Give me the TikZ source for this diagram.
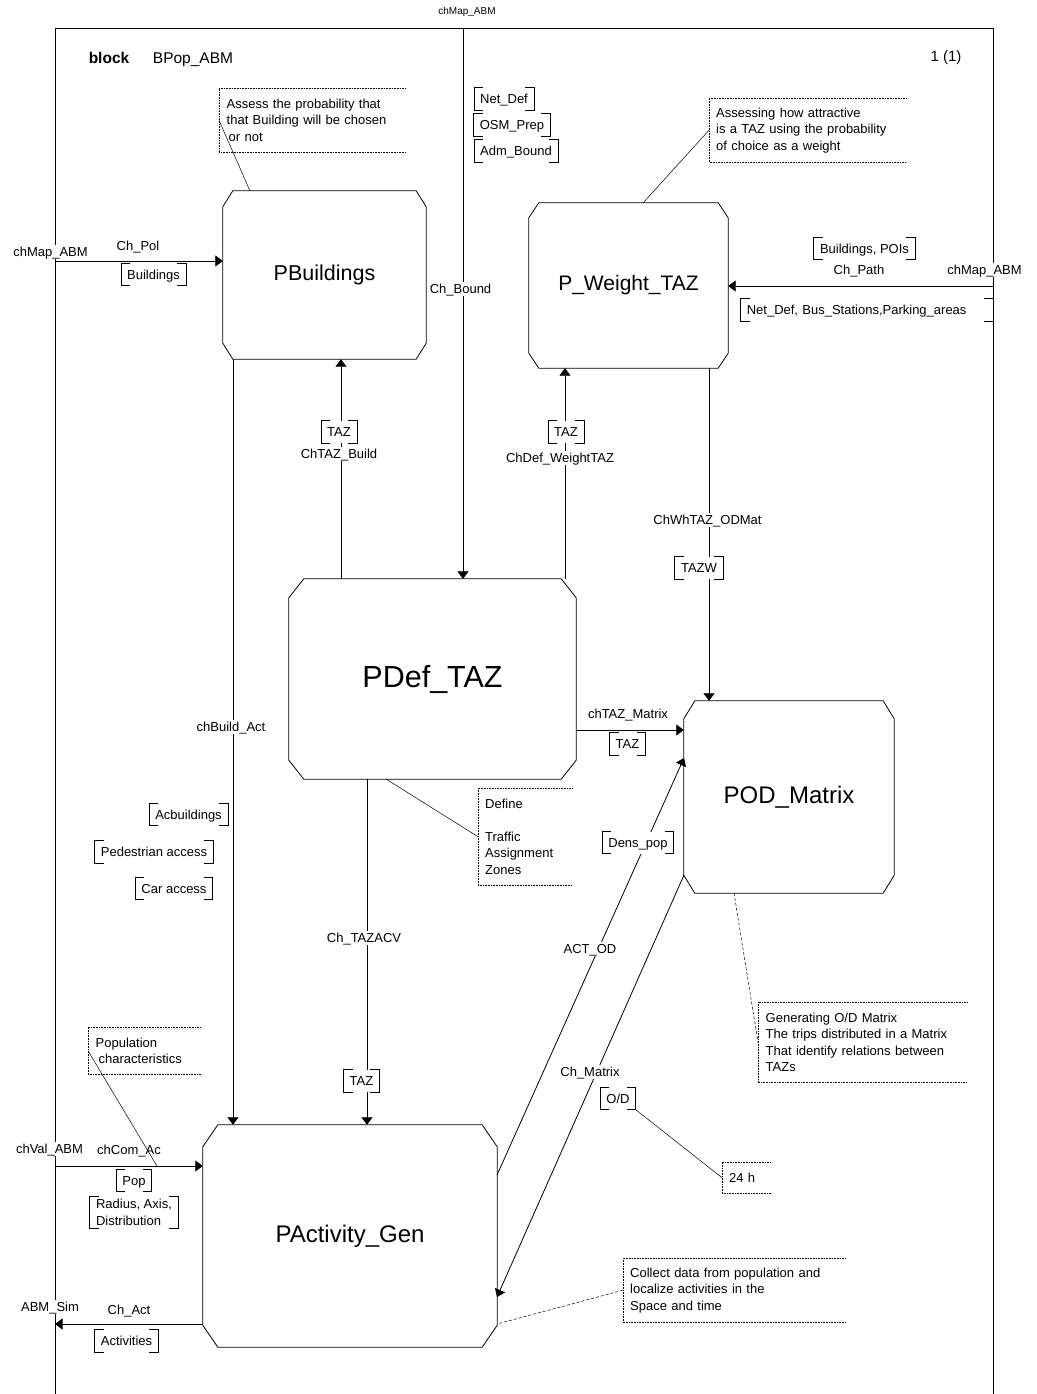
\documentclass[tikz,border=0pt]{standalone}
\usepackage{fontspec}
\setmainfont{Liberation Sans}
\usetikzlibrary{arrows.meta,calc}
\newcommand\labfont{\fontsize{13}{16.5}\selectfont}
\begin{document}
\begin{tikzpicture}[x=1pt,y=-1pt,
  conn/.style={line width=0.8pt,-{Triangle[length=7.5pt,width=11pt]}},
  proc/.style={draw=none,rectangle,inner sep=0pt},
  pline/.style={line width=0.8pt},
  lbl/.style={font=\labfont,fill=white,inner xsep=1.5pt,inner ysep=2.5pt,text height=9.4pt,text depth=0pt},
  siglist/.style={font=\labfont,inner xsep=6pt,inner ysep=0pt,minimum height=22pt,text height=9.4pt,text depth=0pt,fill=white},
  sigmulti/.style={font=\labfont,inner xsep=6pt,inner ysep=3pt,align=left,fill=white},
  comment/.style={font=\labfont,anchor=north west,align=left,inner xsep=7.5pt,inner ysep=0pt},
  cframe/.style={line width=0.6pt,densely dotted},
  cline/.style={line width=0.5pt},
  cdash/.style={line width=0.5pt,densely dashed},
  bracket/.style={line width=0.8pt},
]
\useasboundingbox[fill=white] (0,0) rectangle (1036,1394);

% frame
\draw[line width=1pt] (55,1394) -- (55,29) -- (993,29) -- (993,1394);
\node[font=\fontsize{15.5}{18}\selectfont\bfseries] (kw) at (109,58) {block};
\node[font=\fontsize{15.5}{18}\selectfont] (bname) at (193,60) {BPop\_ABM};
\node[font=\fontsize{15}{18}\selectfont] (page) at (946,58) {1 (1)};
\node[font=\fontsize{10}{12}\selectfont] (topch) at (467,12) {chMap\_ABM};

% processes
\node[proc,minimum width=203pt,minimum height=168pt,font=\fontsize{21.5}{24}\selectfont] (pb) at (324.5,275) {PBuildings};
\node[proc,minimum width=199pt,minimum height=165pt,font=\fontsize{21}{24}\selectfont] (pw) at (628.5,285.5) {P\_Weight\_TAZ};
\node[proc,minimum width=287pt,minimum height=200pt,font=\fontsize{30.5}{34}\selectfont] (pd) at (432.5,679) {PDef\_TAZ};
\node[proc,minimum width=210pt,minimum height=192pt,font=\fontsize{24}{28}\selectfont] (pod) at (789,797) {POD\_Matrix};
\node[proc,minimum width=294pt,minimum height=222pt,font=\fontsize{24}{28}\selectfont] (pa) at (350,1236) {PActivity\_Gen};

\foreach \n/\dx/\dy in {pb/10/16,pw/10/15,pd/15/19,pod/11/18,pa/15/22}{
  \draw[pline] ($(\n.north west)+(\dx,0)$) -- ($(\n.north east)+(-\dx,0)$) -- ($(\n.north east)+(0,\dy)$)
    -- ($(\n.south east)+(0,-\dy)$) -- ($(\n.south east)+(-\dx,0)$) -- ($(\n.south west)+(\dx,0)$)
    -- ($(\n.south west)+(0,-\dy)$) -- ($(\n.north west)+(0,\dy)$) -- cycle;
}

% comments
\node[comment,text width=171pt,minimum height=64pt] (c1) at (219,88) {Assess the probability that\\that Building will be chosen\\\hspace{2pt}or not};
\node[comment,text width=183pt,minimum height=64pt,inner xsep=7pt] (c2) at (709,98) {Assessing how attractive\\is a TAZ using the probability\\of choice as a weight};
\node[comment,text width=80pt,minimum height=97pt,inner xsep=7pt] (c3) at (478,788) {Define\\\mbox{}\\Traffic\\Assignment\\Zones};
\node[comment,text width=194pt,minimum height=80pt] (c4) at (758,1002) {Generating O/D Matrix\\The trips distributed in a Matrix\\That identify relations between\\TAZs};
\node[comment,text width=97pt,minimum height=47pt] (c5) at (88,1027) {Population\\\hspace{3pt}characteristics};
\node[comment,text width=34pt,minimum height=31pt,inner xsep=7pt] (c6) at (722,1162) {24 h};
\node[comment,text width=208pt,minimum height=64pt,inner xsep=7pt] (c7) at (623,1258) {Collect data from population and\\localize activities in the\\Space and time};

% coordinates
\coordinate (inL1) at (55,261);
\coordinate (topin) at (463,29);
\coordinate (inR) at (993,286);
\coordinate (inL2) at (55,1166);
\coordinate (outL) at (55,1324);
\coordinate (xBA) at (233,0);
\coordinate (xTB) at (341,0);
\coordinate (xDW) at (565,0);
\coordinate (xWO) at (709,0);
\coordinate (xTA) at (367,0);
\coordinate (yTM) at (0,730);
\coordinate (aoS) at (497,1175);
\coordinate (aoE) at (684,758);
\coordinate (cmS) at (684,875);
\coordinate (cmE) at (497,1297);
\coordinate (k1) at (250,191);
\coordinate (k2) at (643,203);
\coordinate (k3) at (386,779);
\coordinate (k4) at (734,893);
\coordinate (k5) at (157,1166);
\coordinate (k7) at (497,1324);

% connectors
\draw[conn] (inL1) -- (inL1 -| pb.west);
\draw[conn] (xBA |- pb.south) -- (xBA |- pa.north);
\draw[conn] (xTB |- pd.north) -- (xTB |- pb.south);
\draw[conn] (topin) -- (topin |- pd.north);
\draw[conn] (xDW |- pd.north) -- (xDW |- pw.south);
\draw[conn] (inR) -- (inR -| pw.east);
\draw[conn] (xWO |- pw.south) -- (xWO |- pod.north);
\draw[conn] (yTM -| pd.east) -- (yTM -| pod.west);
\draw[conn] (aoS) -- (aoE);
\draw[conn] (cmS) -- (cmE);
\draw[conn] (xTA |- pd.south) -- (xTA |- pa.north);
\draw[conn] (inL2) -- (inL2 -| pa.west);
\draw[conn] (outL -| pa.west) -- (outL);

% channel labels
\node[lbl] (l1) at (50.5,252) {chMap\_ABM};
\node[lbl] (l2) at (138,246) {Ch\_Pol};
\node[lbl] (l3) at (460.5,289) {Ch\_Bound};
\node[lbl] (l4) at (339,454) {ChTAZ\_Build};
\node[lbl] (l5) at (560,458) {ChDef\_WeightTAZ};
\node[lbl] (l6) at (859,270) {Ch\_Path};
\node[lbl] (l7) at (984.5,270) {chMap\_ABM};
\node[lbl] (l8) at (707.5,520) {ChWhTAZ\_ODMat};
\node[lbl] (l9) at (628,714) {chTAZ\_Matrix};
\node[lbl] (l10) at (231,727) {chBuild\_Act};
\node[lbl] (l11) at (364,938) {Ch\_TAZACV};
\node[lbl] (l12) at (590,949) {ACT\_OD};
\node[lbl] (l13) at (590,1072) {Ch\_Matrix};
\node[lbl] (l14) at (49.5,1149) {chVal\_ABM};
\node[lbl] (l15) at (129,1150) {chCom\_Ac};
\node[lbl] (l16) at (50,1307) {ABM\_Sim};
\node[lbl] (l17) at (129,1310) {Ch\_Act};

% signal lists
\node[siglist] (sBld) at (153.5,274.5) {Buildings\hspace{7pt}};
\node[siglist] (sNet) at (504,99) {Net\_Def\hspace{7pt}};
\node[siglist] (sOsm) at (512,125) {OSM\_Prep\hspace{7pt}};
\node[siglist] (sAdm) at (516,151) {Adm\_Bound\hspace{7pt}};
\node[siglist] (sT1) at (339,432) {TAZ\hspace{7pt}};
\node[siglist] (sT2) at (566,432) {TAZ\hspace{7pt}};
\node[siglist] (sBP) at (864.5,248.5) {Buildings, POIs\hspace{7pt}};
\node[siglist,anchor=east,text width=240pt,align=left] (sNB) at (993,310) {Net\_Def, Bus\_Stations,Parking\_areas};
\node[siglist] (sTW) at (699,568) {TAZW\hspace{7pt}};
\node[siglist] (sT3) at (627.5,744) {TAZ\hspace{7pt}};
\node[siglist] (sDen) at (638,842.5) {Dens\_pop\hspace{7pt}};
\node[siglist] (sOD) at (618,1098.5) {O/D\hspace{7pt}};
\node[siglist] (sAcb) at (188.5,814.5) {Acbuildings\hspace{7pt}};
\node[siglist] (sPed) at (154,852) {Pedestrian access\hspace{7pt}};
\node[siglist] (sCar) at (174,888.5) {Car access\hspace{7pt}};
\node[siglist] (sT4) at (361.5,1081) {TAZ\hspace{7pt}};
\node[siglist] (sPop) at (134,1180.5) {Pop\hspace{7pt}};
\node[sigmulti] (sRad) at (134,1212.5) {Radius, Axis,\hspace{7pt}\\Distribution};
\node[siglist] (sAct) at (126.5,1341) {Activities\hspace{7pt}};

\foreach \n in {sBld,sNet,sOsm,sAdm,sT1,sT2,sBP,sNB,sTW,sT3,sDen,sOD,sAcb,sPed,sCar,sT4,sPop,sRad,sAct}{
  \draw[bracket] ($(\n.north west)+(9,0)$) -- (\n.north west) -- (\n.south west) -- ($(\n.south west)+(9,0)$);
  \draw[bracket] ($(\n.north east)+(-9,0)$) -- (\n.north east) -- (\n.south east) -- ($(\n.south east)+(-9,0)$);
}

% comment frames and links
\foreach \n in {c1,c2,c3,c4,c5,c6,c7}{
  \draw[cframe] (\n.north east) -- (\n.north west) -- (\n.south west) -- (\n.south east);
}
\draw[cline] (c1.west) -- (k1);
\draw[cline] (c2.west) -- (k2);
\draw[cline] (c3.west) -- (k3);
\draw[cdash] (k4) -- (c4.west);
\draw[cline] (c5.west) -- (k5);
\draw[cline] (sOD.south east) -- (c6.west);
\draw[cdash] (c7.west) -- (k7);
\end{tikzpicture}
\end{document}
